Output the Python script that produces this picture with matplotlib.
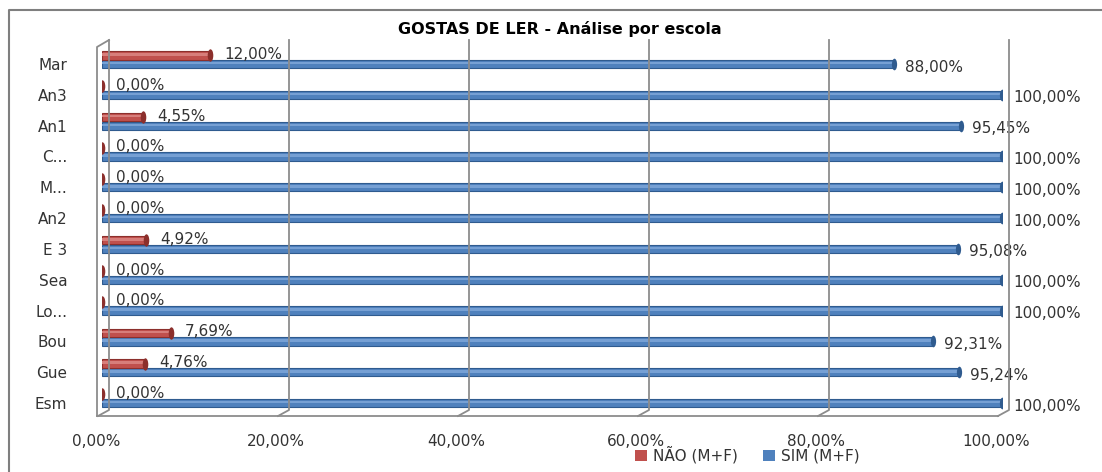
import matplotlib
matplotlib.use("Agg")
import matplotlib.pyplot as plt
from matplotlib.markers import MarkerStyle
from matplotlib.patches import Patch
from matplotlib.transforms import Affine2D, ScaledTranslation
from matplotlib.lines import Line2D

# data (bottom to top, as in the chart)
escolas = ["Esm", "Gue", "Bou", "Lo...", "Sea", "E 3", "An2", "M...", "C...", "An1", "An3", "Mar"]
nao = [0.00, 4.76, 7.69, 0.00, 0.00, 4.92, 0.00, 0.00, 0.00, 4.55, 0.00, 12.00]
sim = [100.00, 95.24, 92.31, 100.00, 100.00, 95.08, 100.00, 100.00, 100.00, 95.45, 100.00, 88.00]
xticks = [0, 20, 40, 60, 80, 100]

BLUE, BLUE_D, BLUE_L = "#4f81bd", "#2f5b8f", "#76a0d4"
RED, RED_D, RED_L = "#c0504d", "#8c2f2c", "#d77e7b"
GRID = "#8c8c8c"
TXT = "#333333"
FS = 11

plt.rcParams["font.family"] = ["DejaVu Sans"]

DPI = 100
fig = plt.figure(figsize=(11.02, 4.72), dpi=DPI)
ax = fig.add_axes([102 / 1102, 1 - 416 / 472, 900 / 1102, 376 / 472])
ytop, ybot = 11.78, -0.42
ax.set_xlim(0, 100)
ax.set_ylim(ybot, ytop)
for s in ax.spines.values():
    s.set_visible(False)


def off(dx, dy):
    # pixel offset (dy positive = up)
    return ax.transData + ScaledTranslation(dx / DPI, dy / DPI, fig.dpi_scale_trans)


def pix_line(pts, **kw):
    # polyline given in display pixels
    f = fig.transFigure.inverted().transform(pts)
    fig.add_artist(Line2D(f[:, 0], f[:, 1], color=GRID, lw=1.3, **kw))


# 3D-ish back wall gridlines with floor diagonals
for v in xticks:
    xt, yt = ax.transData.transform((v, ytop))
    xb, yb = ax.transData.transform((v, ybot))
    pix_line([[xt + 7, yt], [xb + 7, yb + 6], [xb - 4, yb]])

# left wall front edge + top cap, floor front edge
xt, yt = ax.transData.transform((0, ytop))
xb, yb = ax.transData.transform((0, ybot))
xr, _ = ax.transData.transform((100, ybot))
pix_line([[xb - 5, yb], [xb - 5, yt - 7], [xt + 7, yt]])
pix_line([[xb - 5, yb], [xr - 4, yb]])

ypos = list(range(len(escolas)))
ypos_red = [y + 0.28 for y in ypos]
h = 0.27

# cylinder-like bars
ax.barh(ypos, sim, height=h, color=BLUE, edgecolor=BLUE_D, lw=0.8, zorder=3)
ax.barh([y + 0.03 for y in ypos], sim, height=h * 0.3, color=BLUE_L, lw=0, zorder=3)
ax.barh(ypos_red, nao, height=h, color=RED, edgecolor=RED_D, lw=0.8, zorder=3)
ax.barh([y + 0.03 for y in ypos_red], nao, height=h * 0.3, color=RED_L, lw=0, zorder=3)

cap = MarkerStyle("o", transform=Affine2D().scale(0.45, 1.0))
ax.scatter(sim, ypos, marker=cap, s=70, color=BLUE_D, lw=0, zorder=4)
ax.scatter(nao, ypos_red, marker=cap, s=80, color=RED_D, lw=0, zorder=4)


def fmt(v):
    return f"{v:.2f}%".replace(".", ",")


for y, v in zip(ypos_red, nao):
    ax.text(v, y, fmt(v), transform=off(14, 1), ha="left", va="center",
            fontsize=FS, color=TXT, zorder=5)
for y, v in zip(ypos, sim):
    ax.text(v, y, fmt(v), transform=off(11, -3), ha="left", va="center",
            fontsize=FS, color=TXT, zorder=5, clip_on=False)

ax.set_yticks(ypos)
ax.set_yticklabels(escolas, fontsize=FS, color=TXT)
ax.set_xticks(xticks)
ax.set_xticklabels([fmt(v) for v in xticks], fontsize=FS, color=TXT)
ax.tick_params(axis="y", length=0, pad=25)
ax.tick_params(axis="x", length=0, pad=13)
for lab in ax.get_xticklabels():
    lab.set_transform(lab.get_transform() + ScaledTranslation(-6 / DPI, 0, fig.dpi_scale_trans))
ax.grid(False)

fig.text(0.508, 1 - 29 / 472, "GOSTAS DE LER - Análise por escola", ha="center", va="center",
         fontsize=11.5, fontweight="bold", color="black")

handles = [Patch(facecolor=RED, edgecolor="none"), Patch(facecolor=BLUE, edgecolor="none")]
fig.legend(handles, ["NÃO (M+F)", "SIM (M+F)"], loc="center", bbox_to_anchor=(0.678, 0.036),
           ncol=2, frameon=False, fontsize=FS, handlelength=0.8, handleheight=0.8,
           handletextpad=0.4, columnspacing=1.6, labelcolor=TXT)

# outer chart border (left and top)
fig.add_artist(Line2D([9 / 1102, 9 / 1102, 1.0], [0.0, 1 - 10 / 472, 1 - 10 / 472],
                      color="#7f7f7f", lw=1.5))

fig.savefig("out.png", dpi=DPI)
